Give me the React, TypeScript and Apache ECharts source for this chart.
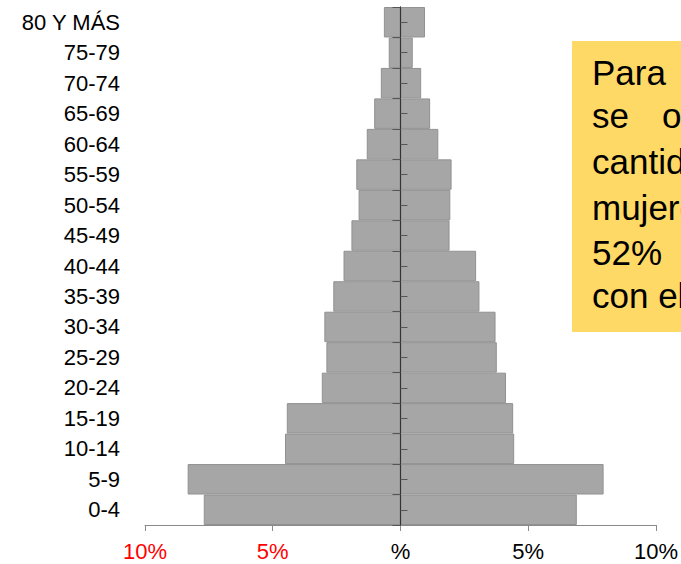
import React, { useEffect, useRef } from "react";
import * as echarts from "echarts";

const categories = ["0-4", "5-9", "10-14", "15-19", "20-24", "25-29", "30-34", "35-39", "40-44", "45-49", "50-54", "55-59", "60-64", "65-69", "70-74", "75-79", "80 Y MÁS"];
const hombres = [7.7, 8.33, 4.52, 4.45, 3.08, 2.9, 2.98, 2.63, 2.23, 1.92, 1.64, 1.73, 1.32, 1.03, 0.77, 0.46, 0.65];
const mujeres = [6.9, 7.95, 4.45, 4.41, 4.13, 3.77, 3.72, 3.09, 2.96, 1.92, 1.95, 2.0, 1.48, 1.16, 0.81, 0.48, 0.96];
const xTicks = [-10, -5, 0, 5, 10];
const noteLines = ["Para", "se", "cantidad de", "mujeres", "52%", "con el"];

const FONT = "'Liberation Sans', Arial, sans-serif";

export default function App() {
  const ref = useRef<HTMLDivElement>(null);
  useEffect(() => {
    if (!ref.current) return;
    const chart = echarts.init(ref.current, null, { renderer: "svg" });
    const barStyle = { color: "#a6a6a6", borderColor: "#919191", borderWidth: 1 };
    const baselines = [87, 130, 176, 222, 267, 310];
    const texts: any[] = noteLines.map((t, i) => ({
      type: "text",
      left: 592,
      top: baselines[i] - 32,
      style: { text: t, fontSize: 35, fontFamily: FONT, fill: "#000" },
    }));
    texts.push({
      type: "text",
      left: 662,
      top: baselines[1] - 32,
      style: { text: "observa", fontSize: 35, fontFamily: FONT, fill: "#000" },
    });
    const xMin = xTicks[0];
    const xMax = xTicks[xTicks.length - 1];
    chart.setOption({
      animation: false,
      grid: { left: 145, right: 24, top: 7, bottom: 39, containLabel: false },
      xAxis: [
        {
          type: "value",
          min: xMin,
          max: xMax,
          interval: 5,
          axisLine: { show: true, onZero: false, lineStyle: { color: "#8a8a8a", width: 1 } },
          axisTick: { show: true, length: 6, lineStyle: { color: "#8a8a8a" } },
          splitLine: { show: false },
          axisLabel: {
            margin: 15,
            fontSize: 22,
            fontFamily: FONT,
            color: "#000",
            formatter: (v: number) => (v < 0 ? "{r|" + -v + "%}" : v === 0 ? "%" : v + "%"),
            rich: { r: { color: "#ff0000", fontSize: 22, fontFamily: FONT } },
          },
        },
        {
          type: "value",
          min: xMin,
          max: xMax,
          interval: 5,
          position: "bottom",
          axisLine: { show: false, onZero: false },
          axisTick: { show: false },
          axisLabel: { show: false },
          splitLine: { show: false },
        },
      ],
      yAxis: [
        {
          type: "category",
          data: categories,
          position: "left",
          axisLine: { show: false, onZero: false },
          axisTick: { show: false },
          axisLabel: { margin: 25, fontSize: 22, fontFamily: FONT, color: "#000" },
        },
        {
          type: "category",
          data: categories,
          position: "left",
          axisLine: { show: true, onZero: true, onZeroAxisIndex: 0, lineStyle: { color: "#333", width: 1 } },
          axisTick: { show: true, length: 8, inside: false, lineStyle: { color: "#555" } },
          axisLabel: { show: false },
          z: 5,
        },
        {
          type: "category",
          data: categories,
          position: "left",
          axisLine: { show: true, onZero: true, onZeroAxisIndex: 1, lineStyle: { color: "#333", width: 1 } },
          axisTick: { show: true, length: 7, inside: true, alignWithLabel: true, lineStyle: { color: "#555" } },
          axisLabel: { show: false },
          z: 5,
        },
      ],
      series: [
        {
          type: "bar",
          name: "Hombres",
          stack: "p",
          xAxisIndex: 0,
          yAxisIndex: 0,
          barCategoryGap: "0%",
          data: hombres.map((v) => -v),
          itemStyle: barStyle,
        },
        {
          type: "bar",
          name: "Mujeres",
          stack: "p",
          xAxisIndex: 0,
          yAxisIndex: 0,
          barCategoryGap: "0%",
          data: mujeres,
          itemStyle: barStyle,
        },
      ],
      graphic: [
        {
          type: "rect",
          left: 572,
          top: 41,
          shape: { width: 200, height: 291 },
          style: { fill: "#ffd966" },
          z: 10,
        },
        ...texts.map((t) => ({ ...t, z: 11 })),
      ],
    });
    return () => chart.dispose();
  }, []);
  return (
    <div
      ref={ref}
      style={{ position: "fixed", left: 0, top: 0, width: 681, height: 564, overflow: "hidden", background: "#fff" }}
    />
  );
}
